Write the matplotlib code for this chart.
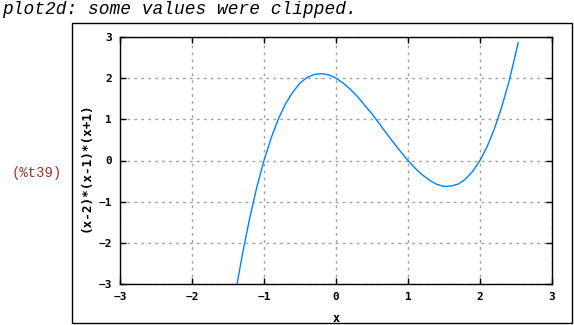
import matplotlib
matplotlib.use("Agg")
import matplotlib.pyplot as plt
from matplotlib.patches import Rectangle

# values
x_vals = [-1.38, -1.3, -1.2, -1.1, -1.0, -0.9, -0.8, -0.7, -0.6, -0.5, -0.4,
          -0.3, -0.2, -0.1, 0.0, 0.1, 0.2, 0.3, 0.4, 0.5, 0.6, 0.7, 0.8, 0.9,
          1.0, 1.1, 1.2, 1.3, 1.4, 1.5, 1.6, 1.7, 1.8, 1.9, 2.0, 2.1, 2.2,
          2.3, 2.4, 2.5, 2.53]
y_vals = [-3.06, -2.28, -1.41, -0.65, 0.0, 0.55, 1.01, 1.38, 1.66, 1.88, 2.02,
          2.09, 2.11, 2.08, 2.0, 1.88, 1.73, 1.55, 1.34, 1.13, 0.90, 0.66, 0.43, 0.21,
          0.0, -0.19, -0.35, -0.48, -0.58, -0.63, -0.62, -0.57, -0.45, -0.26, 0.0, 0.34, 0.77,
          1.29, 1.90, 2.63, 2.86]
ticks = [-3, -2, -1, 0, 1, 2, 3]
message = "plot2d: some values were clipped."
out_label = "(%t39)"
xlabel = "x"
ylabel = "(x-2)*(x-1)*(x+1)"

W, H = 574, 325
fig = plt.figure(figsize=(W / 100, H / 100), dpi=100)

# outer frame around the plot image
fig.patches.append(Rectangle((72 / W, 1 - 323 / H), 500 / W, 300 / H,
                             transform=fig.transFigure, fill=False,
                             edgecolor="black", linewidth=1))

fig.text(2 / W, 1 - 9 / H, message, family="Liberation Mono", style="italic",
         fontsize=12.9, va="center", ha="left")
fig.text(12 / W, 1 - 173 / H, out_label, family="Liberation Mono",
         fontsize=10, color="#a03030", va="center", ha="left")

ax = fig.add_axes([120 / W, 1 - 284 / H, 432 / W, 247 / H])
ax.plot(x_vals, y_vals, color="#0080ff", linewidth=1)
ax.set_xlim(-3, 3)
ax.set_ylim(-3, 3)
ax.set_xticks(ticks)
ax.set_yticks(ticks)
ax.grid(True, linestyle=(0, (2, 3)), color="#a0a0a0", linewidth=1)
ax.tick_params(direction="in", top=True, right=True, length=4, width=1,
               labelsize=8, pad=6)
for lab in ax.get_xticklabels() + ax.get_yticklabels():
    lab.set_family("DejaVu Sans Mono")
    lab.set_fontweight("bold")
for s in ax.spines.values():
    s.set_linewidth(1)

fig.text(336 / W, 1 - 318 / H, xlabel, family="DejaVu Sans Mono",
         fontweight="bold", fontsize=8.5, ha="center", va="center")
fig.text(86 / W, 1 - 167 / H, ylabel, family="DejaVu Sans Mono",
         fontweight="bold", fontsize=9.1, ha="center", va="center", rotation=90)

fig.savefig("out.png", dpi=100)
